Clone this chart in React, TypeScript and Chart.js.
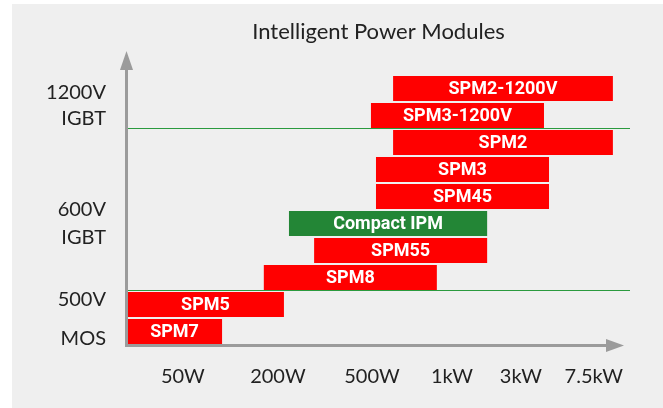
import React, { useEffect, useRef } from "react";
import { Chart, registerables } from "chart.js";

Chart.register(...registerables);

// Product rows (top to bottom)
const categories = [
  "SPM2-1200V",
  "SPM3-1200V",
  "SPM2",
  "SPM3",
  "SPM45",
  "Compact IPM",
  "SPM55",
  "SPM8",
  "SPM5",
  "SPM7",
];
// Power range on the (non-uniform) power axis, 0..100 units
const rangeStart = [52.9, 48.5, 52.9, 49.5, 49.5, 32.2, 37.2, 27.2, 0, 0];
const rangeEnd = [96.6, 82.9, 96.6, 83.9, 83.9, 71.6, 71.6, 61.6, 31.2, 18.9];

// Power axis ticks
const tickLabels = ["50W", "200W", "500W", "1kW", "3kW", "7.5kW"];
const tickValues = [11.1, 30.0, 48.7, 64.6, 78.3, 92.8];

// Voltage class labels on the left
const groupLabels = ["1200V", "IGBT", "600V", "IGBT", "500V", "MOS"];
const groupLabelRows = [0.16, 1.11, 4.48, 5.51, 7.82, 9.26];
// Separator lines before these rows
const separatorRows = [2, 8];

const RED = "#ff0000";
const GREEN = "#238636";
const LINE_GREEN = "#2a9a3e";
const AXIS = "#9b9b9b";
const TEXT = "#222222";

const barLabelPlugin = {
  id: "barLabels",
  afterDatasetsDraw(chart: any) {
    const ctx = chart.ctx;
    const meta = chart.getDatasetMeta(0);
    ctx.save();
    ctx.fillStyle = "#ffffff";
    ctx.font = "bold 18px Roboto, 'DejaVu Sans', sans-serif";
    ctx.textAlign = "center";
    ctx.textBaseline = "middle";
    meta.data.forEach((bar: any, i: number) => {
      const p = bar.getProps(["x", "base", "y"], true);
      ctx.fillText(categories[i], (p.x + p.base) / 2, p.y + 1);
    });
    ctx.restore();
  },
};

const separatorPlugin = {
  id: "separators",
  beforeDatasetsDraw(chart: any) {
    const ctx = chart.ctx;
    const a = chart.chartArea;
    const yS = chart.scales.y;
    ctx.save();
    ctx.strokeStyle = LINE_GREEN;
    ctx.lineWidth = 1;
    separatorRows.forEach((r) => {
      const y = Math.round(yS.getPixelForValue(r - 0.5)) - 0.5;
      ctx.beginPath();
      ctx.moveTo(a.left, y);
      ctx.lineTo(a.right, y);
      ctx.stroke();
    });
    ctx.restore();
  },
};

const axesPlugin = {
  id: "arrowAxes",
  afterDraw(chart: any) {
    const ctx = chart.ctx;
    const a = chart.chartArea;
    const yS = chart.scales.y;
    ctx.save();
    ctx.fillStyle = AXIS;
    ctx.strokeStyle = AXIS;
    ctx.lineWidth = 3;
    const lx = a.left - 0.5;
    const by = a.bottom + 0.5;
    // vertical shaft
    ctx.beginPath();
    ctx.moveTo(lx, by + 1.5);
    ctx.lineTo(lx, a.top - 6);
    ctx.stroke();
    // vertical head
    ctx.beginPath();
    ctx.moveTo(lx, a.top - 24);
    ctx.lineTo(lx - 6.5, a.top - 5);
    ctx.lineTo(lx + 6.5, a.top - 5);
    ctx.closePath();
    ctx.fill();
    // horizontal shaft
    ctx.beginPath();
    ctx.moveTo(lx - 1.5, by);
    ctx.lineTo(a.right - 22, by);
    ctx.stroke();
    // horizontal head
    ctx.beginPath();
    ctx.moveTo(a.right - 6, by);
    ctx.lineTo(a.right - 24, by - 6.5);
    ctx.lineTo(a.right - 24, by + 6.5);
    ctx.closePath();
    ctx.fill();

    // left group labels
    ctx.fillStyle = TEXT;
    ctx.font = "20px Lato, 'DejaVu Sans', sans-serif";
    ctx.textAlign = "right";
    ctx.textBaseline = "middle";
    groupLabels.forEach((t, i) => {
      ctx.fillText(t, 106, yS.getPixelForValue(groupLabelRows[i]));
    });
    ctx.restore();
  },
};

export default function App() {
  const ref = useRef<HTMLCanvasElement | null>(null);

  useEffect(() => {
    if (!ref.current) return;
    const chart = new Chart(ref.current, {
      type: "bar",
      data: {
        labels: categories,
        datasets: [
          {
            data: categories.map((_, i) => [rangeStart[i], rangeEnd[i]]) as any,
            backgroundColor: categories.map((c) => (c === "Compact IPM" ? GREEN : RED)),
            borderWidth: 0,
            barPercentage: 0.93,
            categoryPercentage: 1,
          },
        ],
      },
      options: {
        indexAxis: "y",
        responsive: false,
        devicePixelRatio: 1,
        animation: false,
        layout: { padding: { right: 33, top: 0, left: 0, bottom: 0 } },
        plugins: {
          legend: { display: false },
          tooltip: { enabled: false },
          title: {
            display: true,
            text: "Intelligent Power Modules",
            color: TEXT,
            font: { family: "Lato", size: 22, weight: "normal" as any },
            padding: { top: 19, bottom: 29.6 },
            fullSize: false,
          },
        },
        scales: {
          x: {
            type: "linear",
            min: 0,
            max: 100,
            grid: { display: false, drawTicks: false },
            border: { display: false },
            ticks: {
              color: TEXT,
              font: { family: "Lato", size: 20 },
              padding: 20,
              autoSkip: false,
              maxRotation: 0,
              callback: (_v: any, i: number) => tickLabels[i],
            },
            afterBuildTicks: (s: any) => {
              s.ticks = tickValues.map((value) => ({ value }));
            },
            afterFit: (s: any) => {
              s.height = 63;
            },
          },
          y: {
            type: "category",
            grid: { display: false, drawTicks: false },
            border: { display: false },
            ticks: { display: false },
            afterFit: (s: any) => {
              s.width = 127;
            },
          },
        },
      },
      plugins: [separatorPlugin, barLabelPlugin, axesPlugin],
    });
    return () => chart.destroy();
  }, []);

  return (
    <div style={{ position: "fixed", left: 0, top: 0, width: 663, height: 408, background: "#ffffff" }}>
      <div style={{ position: "absolute", left: 12, top: 4, right: 0, bottom: 0, background: "#efefef" }} />
      <canvas ref={ref} width={663} height={408} style={{ position: "absolute", left: 0, top: 0 }} />
    </div>
  );
}
